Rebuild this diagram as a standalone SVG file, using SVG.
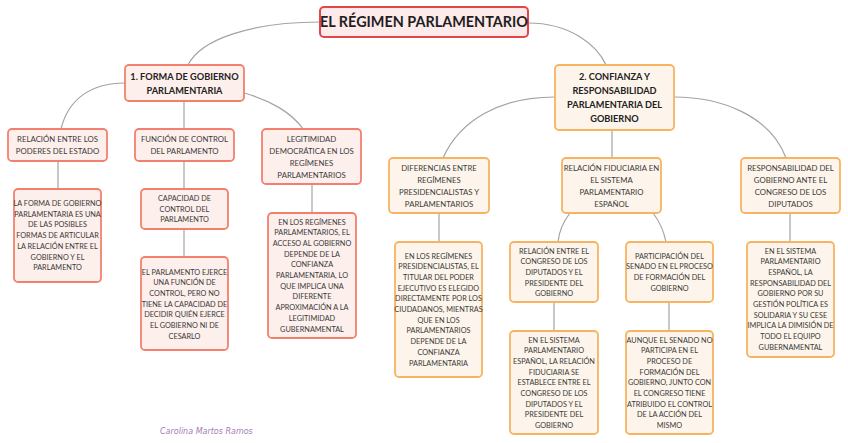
<svg xmlns="http://www.w3.org/2000/svg" width="848" height="443" viewBox="0 0 848 443">
<style>
.bg{fill:#ffffff}
.con{fill:none;stroke:#a3a3a3;stroke-width:1.2}
.root{fill:#fdeaea;stroke:#e0474a;stroke-width:2}
.red{fill:#fdefec;stroke:#f3806f;stroke-width:1.8}
.org{fill:#fdf5eb;stroke:#f7b360;stroke-width:1.8}
text{font-family:Lato,"Liberation Sans",sans-serif;text-anchor:middle;fill:#3a3a3a}
.t0{font-size:14.4px;font-weight:bold;fill:#1e1e1e}
.t1{font-size:9.2px;font-weight:bold;fill:#222}
.t2{font-size:7.8px}
.t3{font-size:7.3px}
.sig{font-family:"DejaVu Sans",sans-serif;font-style:italic;font-size:8px;fill:#a57cb8;text-anchor:start}
</style>
<rect class="bg" x="0" y="0" width="848" height="443"/>
<g id="connectors">
<path class="con" d="M320,22 C250,22 200,40 188,65"/>
<path class="con" d="M528,23 C570,23 597,45 606,65"/>
<path class="con" d="M125,83 C90,83 68,100 61,129"/>
<path class="con" d="M184,101 L184,129"/>
<path class="con" d="M244,93 C270,100 292,113 303,129"/>
<path class="con" d="M58,161 L58,189"/>
<path class="con" d="M184,161 L184,189"/>
<path class="con" d="M184,229 L184,257"/>
<path class="con" d="M312,184 L312,213"/>
<path class="con" d="M555,97 C500,97 460,120 443,158"/>
<path class="con" d="M612,130 L612,158"/>
<path class="con" d="M674,97 C720,97 770,115 786,158"/>
<path class="con" d="M439,213 L439,242"/>
<path class="con" d="M570,213 C563,222 559,232 558,242"/>
<path class="con" d="M653,213 C660,222 664,232 666,242"/>
<path class="con" d="M554,302 L554,331"/>
<path class="con" d="M669,302 L669,331"/>
<path class="con" d="M790,213 L790,242"/>
</g>
<g id="root">
<rect class="root" x="320" y="7" width="208" height="30" rx="4"/>
<text class="t0" x="424" y="27">EL RÉGIMEN PARLAMENTARIO</text>
</g>
<g id="n1">
<rect class="red" x="125" y="65" width="119" height="36" rx="4"/>
<text class="t1"><tspan x="184.5" y="79.5">1. FORMA DE GOBIERNO</tspan><tspan x="184.5" y="93.5">PARLAMENTARIA</tspan></text>
</g>
<g id="n2">
<rect class="org" x="555" y="65" width="119" height="65" rx="4"/>
<text class="t1"><tspan x="614.5" y="79.5">2. CONFIANZA Y</tspan><tspan x="614.5" y="93.5">RESPONSABILIDAD</tspan><tspan x="614.5" y="107.5">PARLAMENTARIA DEL</tspan><tspan x="614.5" y="121.5">GOBIERNO</tspan></text>
</g>
<g id="n1a">
<rect class="red" x="8" y="129" width="99" height="32" rx="4"/>
<text class="t2"><tspan x="57.5" y="142">RELACIÓN ENTRE LOS</tspan><tspan x="57.5" y="154">PODERES DEL ESTADO</tspan></text>
</g>
<g id="n1b">
<rect class="red" x="135" y="129" width="99" height="32" rx="4"/>
<text class="t2"><tspan x="184.5" y="142">FUNCIÓN DE CONTROL</tspan><tspan x="184.5" y="154">DEL PARLAMENTO</tspan></text>
</g>
<g id="n1c">
<rect class="red" x="262" y="129" width="99" height="55" rx="4"/>
<text class="t2"><tspan x="311.5" y="142">LEGITIMIDAD</tspan><tspan x="311.5" y="154">DEMOCRÁTICA EN LOS</tspan><tspan x="311.5" y="166">REGÍMENES</tspan><tspan x="311.5" y="178">PARLAMENTARIOS</tspan></text>
</g>
<g id="n1a1">
<rect class="red" x="14" y="189" width="87" height="93" rx="4"/>
<text class="t3"><tspan x="57.5" y="206">LA FORMA DE GOBIERNO</tspan><tspan x="57.5" y="216.7">PARLAMENTARIA ES UNA</tspan><tspan x="57.5" y="227.4">DE LAS POSIBLES</tspan><tspan x="57.5" y="238.1">FORMAS DE ARTICULAR</tspan><tspan x="57.5" y="248.8">LA RELACIÓN ENTRE EL</tspan><tspan x="57.5" y="259.5">GOBIERNO Y EL</tspan><tspan x="57.5" y="270.2">PARLAMENTO</tspan></text>
</g>
<g id="n1b1">
<rect class="red" x="141" y="189" width="87" height="40" rx="4"/>
<text class="t3"><tspan x="184.5" y="201">CAPACIDAD DE</tspan><tspan x="184.5" y="211.7">CONTROL DEL</tspan><tspan x="184.5" y="222.4">PARLAMENTO</tspan></text>
</g>
<g id="n1b2">
<rect class="red" x="141" y="257" width="87" height="93" rx="4"/>
<text class="t3"><tspan x="184.5" y="274.5">EL PARLAMENTO EJERCE</tspan><tspan x="184.5" y="285.2">UNA FUNCIÓN DE</tspan><tspan x="184.5" y="295.9">CONTROL, PERO NO</tspan><tspan x="184.5" y="306.6">TIENE LA CAPACIDAD DE</tspan><tspan x="184.5" y="317.3">DECIDIR QUIÉN EJERCE</tspan><tspan x="184.5" y="328">EL GOBIERNO NI DE</tspan><tspan x="184.5" y="338.7">CESARLO</tspan></text>
</g>
<g id="n1c1">
<rect class="red" x="268" y="213" width="88" height="125" rx="4"/>
<text class="t3"><tspan x="312" y="224.5">EN LOS REGÍMENES</tspan><tspan x="312" y="235.2">PARLAMENTARIOS, EL</tspan><tspan x="312" y="245.9">ACCESO AL GOBIERNO</tspan><tspan x="312" y="256.6">DEPENDE DE LA</tspan><tspan x="312" y="267.3">CONFIANZA</tspan><tspan x="312" y="278">PARLAMENTARIA, LO</tspan><tspan x="312" y="288.7">QUE IMPLICA UNA</tspan><tspan x="312" y="299.4">DIFERENTE</tspan><tspan x="312" y="310.1">APROXIMACIÓN A LA</tspan><tspan x="312" y="320.8">LEGITIMIDAD</tspan><tspan x="312" y="331.5">GUBERNAMENTAL</tspan></text>
</g>
<g id="n2a">
<rect class="org" x="389" y="158" width="100" height="55" rx="4"/>
<text class="t2"><tspan x="439" y="171">DIFERENCIAS ENTRE</tspan><tspan x="439" y="183">REGÍMENES</tspan><tspan x="439" y="195">PRESIDENCIALISTAS Y</tspan><tspan x="439" y="207">PARLAMENTARIOS</tspan></text>
</g>
<g id="n2b">
<rect class="org" x="562" y="158" width="99" height="55" rx="4"/>
<text class="t2"><tspan x="611.5" y="171">RELACIÓN FIDUCIARIA EN</tspan><tspan x="611.5" y="183">EL SISTEMA</tspan><tspan x="611.5" y="195">PARLAMENTARIO</tspan><tspan x="611.5" y="207">ESPAÑOL</tspan></text>
</g>
<g id="n2c">
<rect class="org" x="741" y="158" width="99" height="55" rx="4"/>
<text class="t2"><tspan x="790.5" y="171">RESPONSABILIDAD DEL</tspan><tspan x="790.5" y="183">GOBIERNO ANTE EL</tspan><tspan x="790.5" y="195">CONGRESO DE LOS</tspan><tspan x="790.5" y="207">DIPUTADOS</tspan></text>
</g>
<g id="n2a1">
<rect class="org" x="395" y="242" width="87" height="135" rx="4"/>
<text class="t3"><tspan x="438.5" y="258.5">EN LOS REGÍMENES</tspan><tspan x="438.5" y="269.2">PRESIDENCIALISTAS, EL</tspan><tspan x="438.5" y="279.9">TITULAR DEL PODER</tspan><tspan x="438.5" y="290.6">EJECUTIVO ES ELEGIDO</tspan><tspan x="438.5" y="301.3">DIRECTAMENTE POR LOS</tspan><tspan x="438.5" y="312">CIUDADANOS, MIENTRAS</tspan><tspan x="438.5" y="322.7">QUE EN LOS</tspan><tspan x="438.5" y="333.4">PARLAMENTARIOS</tspan><tspan x="438.5" y="344.1">DEPENDE DE LA</tspan><tspan x="438.5" y="354.8">CONFIANZA</tspan><tspan x="438.5" y="365.5">PARLAMENTARIA</tspan></text>
</g>
<g id="n2b1">
<rect class="org" x="510" y="242" width="88" height="60" rx="4"/>
<text class="t3"><tspan x="554" y="253.5">RELACIÓN ENTRE EL</tspan><tspan x="554" y="264.2">CONGRESO DE LOS</tspan><tspan x="554" y="274.9">DIPUTADOS Y EL</tspan><tspan x="554" y="285.6">PRESIDENTE DEL</tspan><tspan x="554" y="296.3">GOBIERNO</tspan></text>
</g>
<g id="n2b2">
<rect class="org" x="510" y="331" width="88" height="103" rx="4"/>
<text class="t3"><tspan x="554" y="342.5">EN EL SISTEMA</tspan><tspan x="554" y="353.2">PARLAMENTARIO</tspan><tspan x="554" y="363.9">ESPAÑOL, LA RELACIÓN</tspan><tspan x="554" y="374.6">FIDUCIARIA SE</tspan><tspan x="554" y="385.3">ESTABLECE ENTRE EL</tspan><tspan x="554" y="396">CONGRESO DE LOS</tspan><tspan x="554" y="406.7">DIPUTADOS Y EL</tspan><tspan x="554" y="417.4">PRESIDENTE DEL</tspan><tspan x="554" y="428.1">GOBIERNO</tspan></text>
</g>
<g id="n2b3">
<rect class="org" x="626" y="242" width="87" height="60" rx="4"/>
<text class="t3"><tspan x="669.5" y="258.5">PARTICIPACIÓN DEL</tspan><tspan x="669.5" y="269.2">SENADO EN EL PROCESO</tspan><tspan x="669.5" y="279.9">DE FORMACIÓN DEL</tspan><tspan x="669.5" y="290.6">GOBIERNO</tspan></text>
</g>
<g id="n2b4">
<rect class="org" x="626" y="331" width="87" height="103" rx="4"/>
<text class="t3"><tspan x="669.5" y="342.5">AUNQUE EL SENADO NO</tspan><tspan x="669.5" y="353.2">PARTICIPA EN EL</tspan><tspan x="669.5" y="363.9">PROCESO DE</tspan><tspan x="669.5" y="374.6">FORMACIÓN DEL</tspan><tspan x="669.5" y="385.3">GOBIERNO, JUNTO CON</tspan><tspan x="669.5" y="396">EL CONGRESO TIENE</tspan><tspan x="669.5" y="406.7">ATRIBUIDO EL CONTROL</tspan><tspan x="669.5" y="417.4">DE LA ACCIÓN DEL</tspan><tspan x="669.5" y="428.1">MISMO</tspan></text>
</g>
<g id="n2c1">
<rect class="org" x="747" y="242" width="87" height="115" rx="4"/>
<text class="t3"><tspan x="790.5" y="253.5">EN EL SISTEMA</tspan><tspan x="790.5" y="264.2">PARLAMENTARIO</tspan><tspan x="790.5" y="274.9">ESPAÑOL, LA</tspan><tspan x="790.5" y="285.6">RESPONSABILIDAD DEL</tspan><tspan x="790.5" y="296.3">GOBIERNO POR SU</tspan><tspan x="790.5" y="307">GESTIÓN POLÍTICA ES</tspan><tspan x="790.5" y="317.7">SOLIDARIA Y SU CESE</tspan><tspan x="790.5" y="328.4">IMPLICA LA DIMISIÓN DE</tspan><tspan x="790.5" y="339.1">TODO EL EQUIPO</tspan><tspan x="790.5" y="349.8">GUBERNAMENTAL</tspan></text>
</g>
<text class="sig" x="160" y="434">Carolina Martos Ramos</text>
</svg>
